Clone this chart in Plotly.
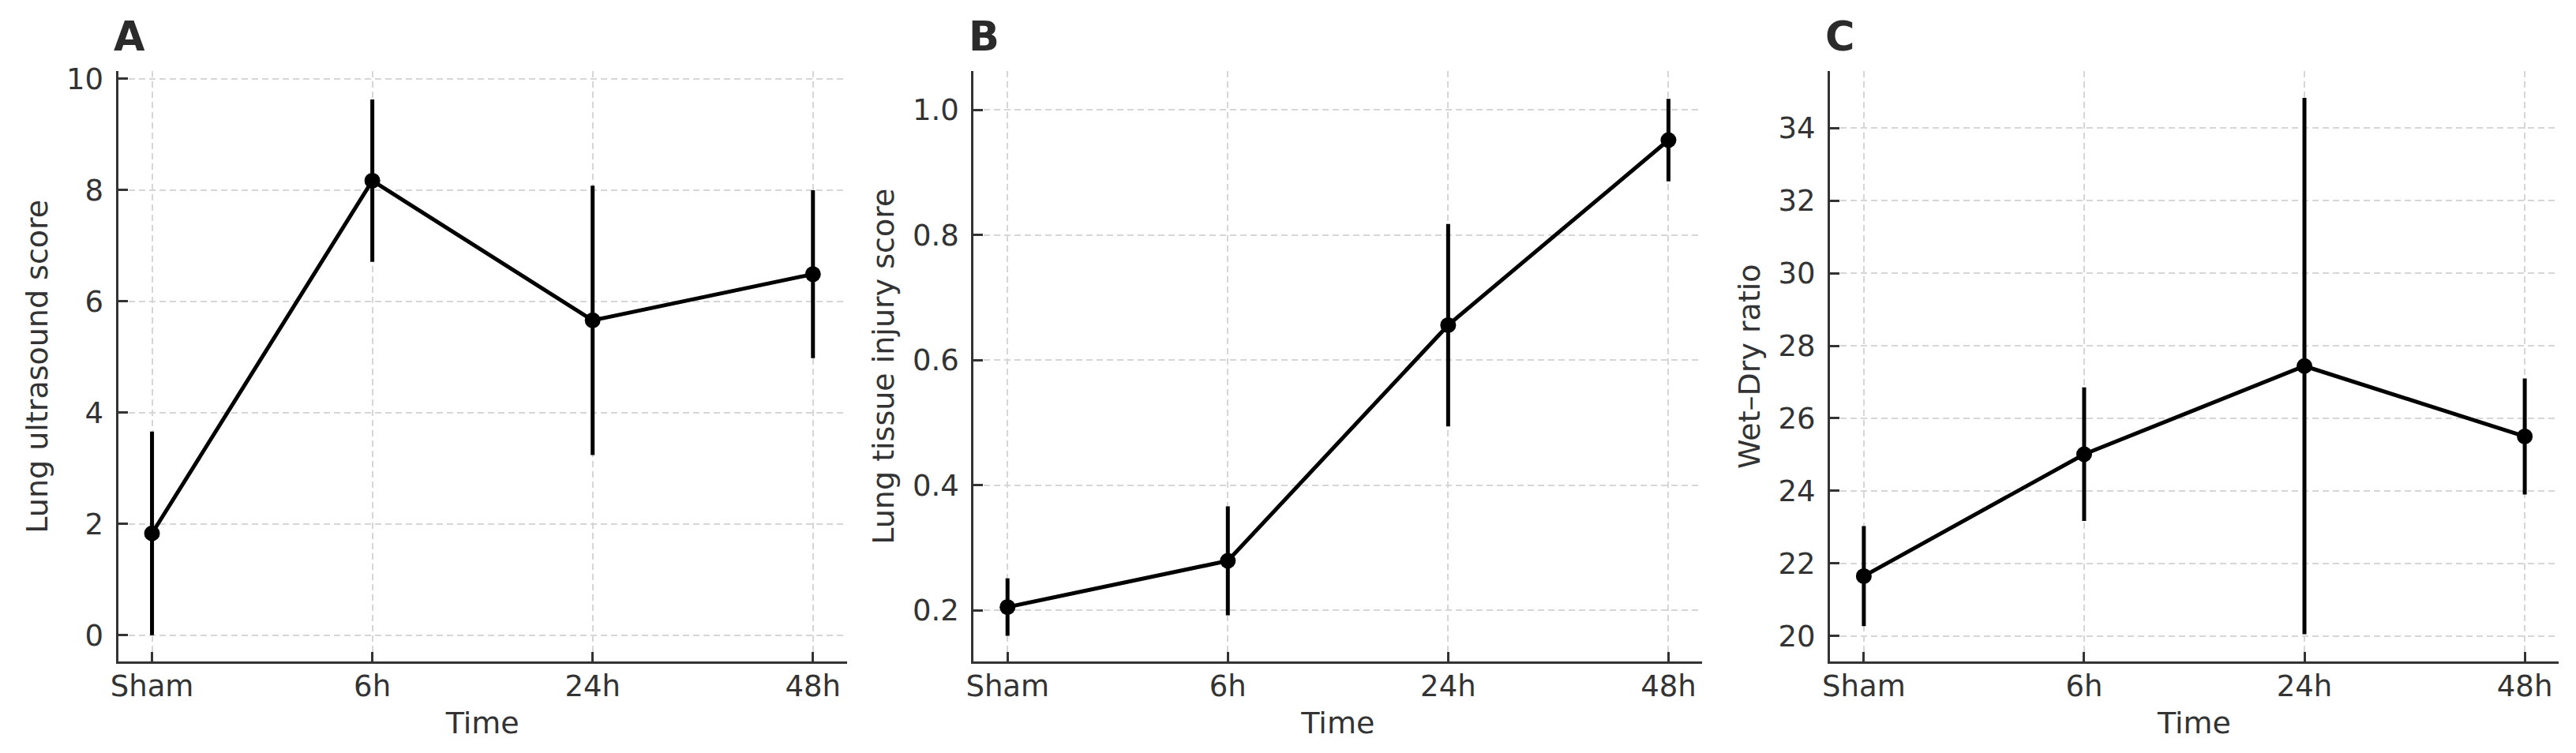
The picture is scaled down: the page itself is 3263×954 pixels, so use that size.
import plotly.graph_objects as go

# time points shared by the three panels
times = ["Sham", "6h", "24h", "48h"]

# A - lung ultrasound score
lus_mean = [1.83, 8.17, 5.66, 6.49]
lus_err = [1.83, 1.46, 2.42, 1.51]

# B - lung tissue injury score
injury_mean = [0.205, 0.279, 0.656, 0.952]
injury_err = [0.046, 0.087, 0.162, 0.066]

# C - wet/dry ratio
wd_mean = [21.65, 25.01, 27.44, 25.50]
wd_err = [1.38, 1.84, 7.39, 1.60]

panels = [
    ("A", lus_mean, lus_err, "Lung ultrasound score", [-0.477, 10.14], [0, 2, 4, 6, 8, 10]),
    ("B", injury_mean, injury_err, "Lung tissue injury score", [0.1176, 1.0624], [0.2, 0.4, 0.6, 0.8, 1.0]),
    ("C", wd_mean, wd_err, "Wet\u2013Dry ratio", [19.29, 35.57], [20, 22, 24, 26, 28, 30, 32, 34]),
]

W, H = 3263, 954
x_domains = [(140, 1066), (1227, 2153), (2315, 3241)]
y_dom = [(H - 837) / H, (H - 80) / H]

txt = "#333333"
font_family = "DejaVu Sans"

fig = go.Figure()
layout = dict(
    width=W, height=H,
    margin=dict(l=0, r=0, t=0, b=0),
    paper_bgcolor="white", plot_bgcolor="white",
    showlegend=False,
    font=dict(family=font_family, color=txt, size=37),
    annotations=[],
)

for i, (letter, mean, err, ytitle, yrange, yticks) in enumerate(panels):
    n = "" if i == 0 else str(i + 1)
    fig.add_trace(go.Scatter(
        x=times, y=mean,
        mode="lines+markers",
        line=dict(color="black", width=5),
        marker=dict(color="black", size=20),
        error_y=dict(type="data", array=err, visible=True, color="black", thickness=5, width=0),
        xaxis="x" + n, yaxis="y" + n,
    ))
    x0, x1 = x_domains[i]
    axis_common = dict(
        showline=True, linecolor="#333333", linewidth=3, mirror=False,
        ticks="inside", ticklen=12, tickwidth=2.5, tickcolor="#333333",
        showgrid=True, gridcolor="#d6d6d6", gridwidth=2, griddash="8px,5px",
        zeroline=False,
        tickfont=dict(family=font_family, size=37, color=txt),
    )
    layout["xaxis" + n] = dict(
        axis_common,
        domain=[x0 / W, x1 / W],
        anchor="y" + n,
        type="category",
        categoryorder="array", categoryarray=times,
        range=[-0.154, 3.154],
        title=dict(text="Time", font=dict(size=38, color=txt), standoff=13),
        ticklabelstandoff=-4,
    )
    layout["yaxis" + n] = dict(
        axis_common,
        domain=y_dom,
        anchor="x" + n,
        range=yrange,
        tickvals=yticks,
        tickformat=".1f" if letter == "B" else "d",
        title=dict(text=ytitle, font=dict(size=38, color=txt), standoff=12),
        ticklabelstandoff=8,
    )
    layout["annotations"].append(dict(
        text="<b>" + letter + "</b>",
        xref="paper", yref="paper",
        x=(x0 - 8) / W, y=(H - 36) / H,
        xanchor="left", yanchor="middle",
        showarrow=False,
        font=dict(family=font_family, size=51, color="#2b2b2b"),
    ))

fig.update_layout(**layout)
fig.write_html("out.html", config={"displayModeBar": False},
               post_script="document.body.style.margin='0';")
